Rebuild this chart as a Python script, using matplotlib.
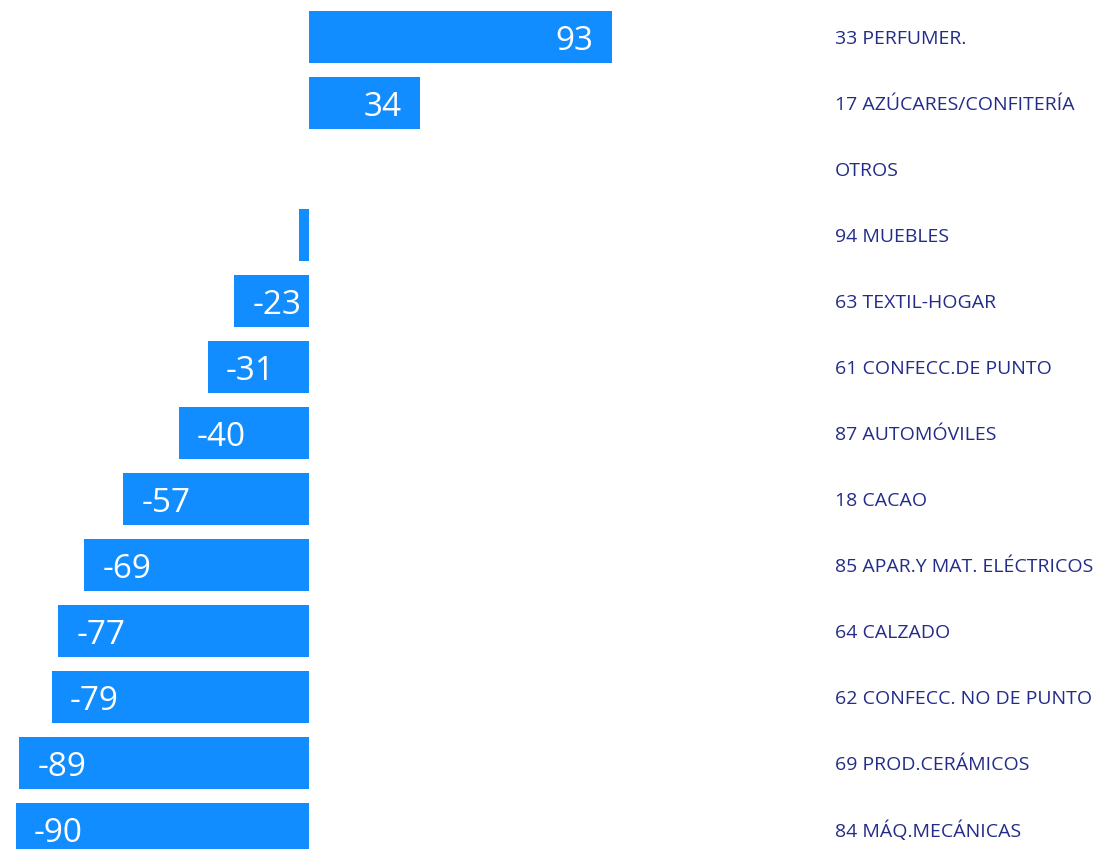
import matplotlib
matplotlib.use("Agg")
import matplotlib.pyplot as plt
from matplotlib.transforms import blended_transform_factory

categories = ["33 PERFUMER.", "17 AZÚCARES/CONFITERÍA", "OTROS", "94 MUEBLES",
              "63 TEXTIL-HOGAR", "61 CONFECC.DE PUNTO", "87 AUTOMÓVILES", "18 CACAO",
              "85 APAR.Y MAT. ELÉCTRICOS", "64 CALZADO", "62 CONFECC. NO DE PUNTO",
              "69 PROD.CERÁMICOS", "84 MÁQ.MECÁNICAS"]
values = [93, 34, 0, -3, -23, -31, -40, -57, -69, -77, -79, -89, -90]

W, H = 1109, 849
fig = plt.figure(figsize=(W / 100, H / 100), dpi=100)
ax = fig.add_axes([0, 0, 1, 1])

px_per_unit = 3.255
zero_px = 309
ax.set_xlim(-zero_px / px_per_unit, (W - zero_px) / px_per_unit)
row_px = 66
first_px = 37
ax.set_ylim((H - first_px) / row_px, -first_px / row_px)
ax.axis("off")

bar_color = "#118DFF"
ys = list(range(len(categories)))
ax.barh(ys, values, height=52 / row_px, color=bar_color, linewidth=0)

pad = 18 / px_per_unit
for y, v in zip(ys, values):
    if abs(v) >= 10:
        if v > 0:
            ax.text(v - pad, y, str(v), ha="right", va="center_baseline",
                    color="white", fontsize=24, family="Open Sans")
        else:
            ax.text(v + pad, y, str(v), ha="left", va="center_baseline",
                    color="white", fontsize=24, family="Open Sans")

tr = blended_transform_factory(ax.transAxes, ax.transData)
for y, c in zip(ys, categories):
    ax.text(835 / W, y, c, transform=tr, ha="left", va="center_baseline",
            color="#232C88", fontsize=14, family="Open Sans")

fig.savefig("out.png", dpi=100)
